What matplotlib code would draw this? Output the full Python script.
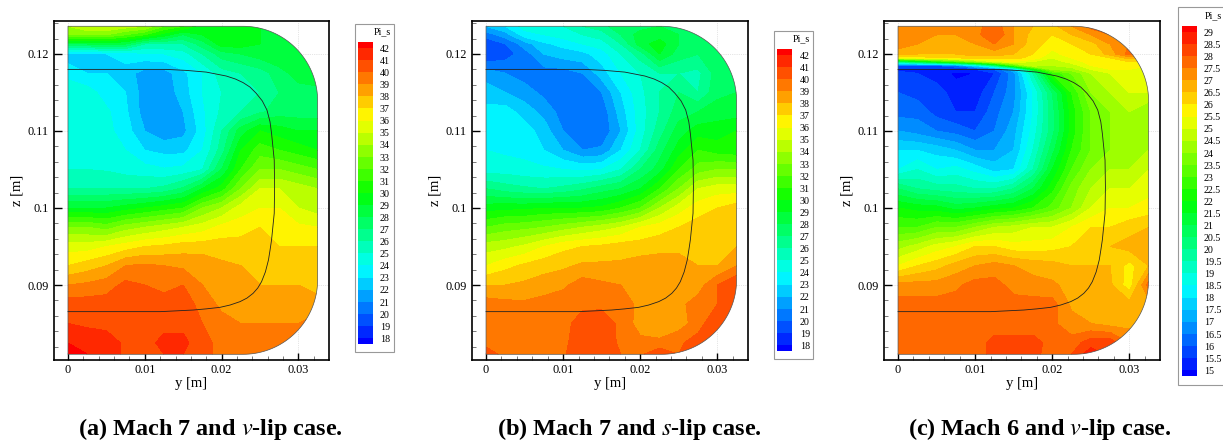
import numpy as np
import matplotlib
matplotlib.use("Agg")
import matplotlib.pyplot as plt
from matplotlib.colors import LinearSegmentedColormap, ListedColormap
from matplotlib.patches import Polygon, Rectangle
from matplotlib.ticker import MultipleLocator

plt.rcParams['font.family'] = ['Liberation Serif', 'DejaVu Serif']
plt.rcParams['mathtext.fontset'] = 'stix'

# y in m, rows from top to bottom
y_cols = np.array([0, 2.5, 5, 7.5, 10, 12.5, 15, 17.5, 20, 22.5, 25, 27.5, 30, 32.5]) / 1000
z_rows = [.1236, .1225, .1213, .12, .1175, .115, .1125, .11, .1075, .105, .1025, .1, .0975, .095, .0925, .09, .0875, .085, .0825, .081]
z_rows_c = [.1236, .1225, .1213, .12, .1195, .119, .1185, .118, .1175, .115, .1125, .11, .1075, .105, .1025, .1, .0975, .095, .0925, .09, .0875, .085, .0825, .081]

pi_a = [
    [34, 35, 35, 34.5, 34, 32, 31, 29.5, 29.5, 29.5, 29, 29, 29, 29],
    [33, 33, 33, 32, 31, 29.5, 28, 29, 30, 29.5, 29, 29, 29, 29],
    [28, 28, 28.5, 28, 26, 26, 26, 27.5, 29.5, 29.5, 29, 29, 29, 29],
    [22.5, 22.5, 23, 23.5, 23.8, 24, 24.5, 26, 27.5, 28, 28.5, 29, 29, 29],
    [23.5, 23, 23, 22.5, 21.5, 21.5, 22.7, 24, 25.5, 26, 26.5, 27.5, 28.5, 29],
    [25, 24.5, 23.5, 23, 21.5, 21.3, 22.5, 24, 25, 25.8, 26, 27, 27.5, 27.5],
    [25, 25, 24.2, 23.2, 21.5, 21.3, 22, 23.8, 25.2, 26, 26.8, 27.5, 27.5, 27.5],
    [25, 25, 24.3, 23.5, 22, 21.3, 21.7, 23.5, 26, 28.5, 30, 29.5, 29, 29],
    [24.8, 24.7, 24.5, 24, 23, 22.7, 22.7, 24, 26.5, 30, 31.5, 31, 30.5, 30],
    [25, 25, 24.9, 24.6, 24.4, 24.1, 24.3, 25, 28, 31, 33, 33, 32.5, 32],
    [26, 26, 26, 26, 26, 26.3, 27.2, 29, 30.5, 33, 35, 35, 34.5, 34],
    [29, 29, 29, 29.5, 30, 30.5, 31, 33, 34, 35.5, 36, 36, 35, 34.5],
    [33, 33, 32.5, 33.5, 34, 34.5, 35, 35.5, 36.3, 36.5, 37, 36.7, 36.2, 36],
    [35.5, 35.5, 36, 36.5, 37, 37.2, 37.5, 37.5, 37.5, 37.5, 37.2, 37, 37, 37],
    [37, 37.5, 38, 39, 39.2, 39, 38.8, 38.7, 38.2, 38, 38, 37.5, 37.3, 37.2],
    [39, 39.2, 39.5, 40.3, 40, 39.5, 40, 39, 38.7, 38.5, 38, 38, 38, 37.5],
    [40.5, 40.5, 40.5, 40.7, 40.8, 40.7, 40.7, 39.5, 38.8, 38.7, 38.5, 38.5, 38.5, 38.5],
    [41, 40.8, 40.7, 40.7, 40.7, 40.7, 40.7, 40, 39.3, 39, 39, 39, 39, 39.5],
    [42, 41.7, 41.5, 40.8, 40.6, 41.3, 41.3, 40.3, 39.7, 39.5, 39.5, 39.8, 40, 40],
    [42.3, 42, 41.5, 40.8, 40.5, 41, 41, 40.3, 39.7, 39.5, 39.5, 39.8, 40, 40],
]
pi_b = [
    [22, 23, 24.5, 25, 25, 26, 26.5, 28, 27.5, 28, 28, 28, 28, 28],
    [20.5, 21.5, 23.5, 24, 24.5, 25, 25.5, 27, 28.5, 28.5, 28, 28, 28, 28],
    [19, 20, 21.5, 22.8, 23.3, 24, 24.5, 26, 28.5, 29.5, 28, 27.5, 28, 28],
    [19, 19.5, 20.5, 22, 22.5, 22.7, 23.5, 25, 26.5, 29, 27.5, 27, 27.8, 28],
    [21.5, 21, 20.5, 20.5, 20.5, 21, 22.5, 24, 25, 26, 26, 25.7, 27.5, 28],
    [22.5, 22, 21.5, 20.7, 20.3, 20.3, 21, 23, 24.7, 26, 27, 26, 27.7, 28],
    [23.3, 23.5, 22.5, 21.7, 20.5, 20, 20.3, 22.5, 24.5, 26, 27.5, 28, 28.5, 28.5],
    [24, 24, 23.5, 22.5, 21, 20, 20.2, 22, 24.5, 26.5, 28.5, 29.5, 29.5, 30],
    [24, 23.8, 23.7, 23, 22, 21, 21.2, 23, 25, 27.5, 29.5, 31, 30.5, 30.3],
    [24.5, 24.5, 24.3, 24.2, 24, 23.8, 24, 25, 27, 28.5, 31, 32.5, 33, 33],
    [27, 26.5, 26.2, 26, 26.3, 26.8, 27.5, 28, 29, 31, 33, 35, 35.5, 35.5],
    [29.5, 29.7, 29.7, 30, 30, 30, 30.2, 31, 32, 34, 35.5, 36.5, 37, 37.5],
    [32, 32.5, 32.7, 33, 33.5, 34, 34.5, 35, 36, 36.5, 37, 37.5, 37.7, 37.7],
    [34.5, 34.7, 35.2, 36, 36.7, 37, 37.2, 37.5, 37.5, 37.7, 37.7, 37.8, 37.9, 38],
    [36, 36.7, 37.2, 37.6, 37.8, 38.2, 38.2, 38.2, 38.5, 38.5, 38.5, 38, 38, 39],
    [38, 38, 38.2, 38.5, 38.8, 39.5, 39.2, 39, 38.7, 38.5, 38.5, 38.5, 40, 41],
    [39.5, 39.3, 39.2, 39.4, 39.6, 39.8, 39.8, 39.6, 38.7, 38.3, 38.7, 39.5, 40, 41],
    [39.7, 39.7, 39.7, 39.7, 39.7, 40.4, 40.5, 39.8, 38.5, 38, 38.5, 39.5, 41, 41],
    [39.7, 39.7, 39.7, 39.7, 39.8, 40.5, 40.6, 39.8, 39.3, 39.3, 39.8, 40.5, 41, 41],
    [40.5, 39.7, 39.7, 39.7, 39.9, 40.5, 40.6, 40, 39.8, 40.8, 40, 40.5, 41, 41],
]
pi_c = [
    [27.3, 27.2, 27.2, 27.3, 27.3, 27.8, 27, 26.5, 26.3, 27, 27.7, 27.7, 27.5, 27],
    [27.5, 27.2, 27, 27, 27.3, 28, 27, 26.3, 26, 26.5, 27, 27.5, 27.3, 27],
    [27.2, 27, 26.7, 26.7, 27, 27.5, 27, 26.2, 25.8, 26, 26.3, 27, 27.5, 27],
    [26.8, 26.5, 26.5, 26.5, 26.7, 26.7, 26.5, 26, 25.3, 25.8, 26, 26.7, 27.7, 27],
    [25.5, 25.7, 26, 26, 26.3, 26.3, 26.2, 25.8, 25, 25.5, 26, 26, 26.7, 26.5],
    [20, 21, 22, 23, 24, 25, 25.5, 25, 24.7, 25.2, 25.7, 26, 26, 26],
    [16, 16, 16, 16.5, 18, 20, 23, 25, 24.5, 24.7, 25.5, 25.7, 25.7, 25.5],
    [15.3, 15.3, 15.3, 15.3, 15.5, 16, 17.5, 21.5, 24, 24.3, 25, 25.5, 25.5, 25.5],
    [15.7, 15.5, 15.2, 14.9, 15, 15.5, 16.8, 19.5, 22.5, 23.5, 24.5, 25, 25.5, 25.3],
    [16, 15.8, 15.8, 15.2, 15.2, 16, 16.8, 18.5, 20.5, 22.5, 24, 24.5, 25, 25],
    [16.3, 16.3, 15.8, 15.5, 15.5, 16.3, 17, 18.5, 20.3, 22.2, 23.5, 24, 24.5, 24],
    [17, 16.8, 16.5, 16.3, 16, 16.5, 17.3, 18.7, 20.3, 22.2, 23.5, 24, 24.3, 24],
    [18, 18, 17.8, 17.5, 17, 17, 17.5, 19, 20.8, 22.5, 23.5, 24, 24.3, 24.5],
    [18.5, 19, 18.5, 18.7, 18.3, 17.8, 18, 19.5, 21.5, 23, 24, 24.5, 24.5, 25],
    [20.5, 20, 19.8, 19.7, 19.5, 19.5, 20, 21, 22.3, 23.7, 24.5, 25, 25, 25.3],
    [22, 21.8, 21.7, 21.3, 21.5, 21.8, 22, 22.5, 23.2, 24, 25, 25.5, 25.5, 25.7],
    [23, 23, 23.5, 23.5, 24, 24.5, 24.7, 25, 25, 25.5, 26, 26, 26.3, 26.5],
    [24.3, 24.7, 25.2, 25.5, 26, 26, 25.7, 25.7, 25.8, 26, 26.3, 26.5, 26.7, 27],
    [25.5, 26, 26.3, 26.7, 27, 27.2, 27, 26.8, 26.7, 26.5, 26.5, 26.5, 25.8, 26.5],
    [27.2, 27.2, 27.2, 27.4, 27.7, 27.7, 27.3, 27.2, 27.1, 26.8, 26.6, 26.6, 25.7, 27.7],
    [27.7, 27.7, 27.7, 27.7, 27.7, 27.7, 27.7, 27.7, 27.7, 26.9, 26.8, 26.8, 26.7, 26.7],
    [27.7, 27.7, 27.7, 27.7, 27.7, 27.7, 27.7, 27.7, 27.6, 27.2, 27, 26.8, 26.8, 26.8],
    [27.7, 27.7, 27.8, 27.8, 27.7, 28.2, 28.2, 28.2, 27.8, 27.7, 28.3, 28.3, 27.5, 27.5],
    [27.7, 27.7, 27.8, 27.8, 27.7, 28.2, 28.2, 28.2, 27.7, 28, 28.8, 28.3, 27.5, 27.5],
]

# lip line
lip_y = np.array([0, 12.8, 15.4, 18.0, 20.6, 21.8, 22.8, 23.7, 24.5, 25.3, 25.9, 26.3, 26.5, 26.85, 26.9, 26.85, 26.5, 26.3, 26.1, 25.7, 25.2, 24.7, 24.1, 23.3, 22.4, 21.1, 19.8, 18, 16.3, 12, 0]) / 1000
lip_z = [.118, .118, .11787, .11765, .11714, .11675, .11628, .1157, .1149, .1139, .11273, .1112, .1097, .10623, .10277, .09931, .09584, .0945, .09325, .0917, .09043, .0896, .08892, .0883, .08784, .0874, .0871, .0869, .08675, .08654, .08654]

levels_ab = np.arange(18, 43, 1.0)
levels_c = np.arange(15, 29.5, 0.5)
labels_ab = [str(v) for v in range(18, 43)]
labels_c = ["%g" % v for v in levels_c]
captions = ["(a) Mach 7 and $v$-lip case.", "(b) Mach 7 and $s$-lip case.", "(c) Mach 6 and $v$-lip case."]

W, H = 1223, 444
rainbow = LinearSegmentedColormap.from_list("tec", ["#0000ff", "#00ffff", "#00ff00", "#ffff00", "#ff0000"])


def px_axes(fig, x0, y0, x1, y1):
    # pixel box, y from the top
    return fig.add_axes([x0 / W, 1 - y1 / H, (x1 - x0) / W, (y1 - y0) / H])


def outline():
    # duct section with two rounded corners
    ym, zt, zb, r, rz = .0325, .1236, .081, .0097, .0097
    t = np.linspace(0, np.pi / 2, 40)
    top = np.c_[ym - r + r * np.sin(t), zt - rz + rz * np.cos(t)]
    bot = np.c_[ym - r + r * np.cos(t), zb + rz - rz * np.sin(t)]
    return np.vstack([[[0, zb], [0, zt]], top, bot])


fig = plt.figure(figsize=(W / 100, H / 100), dpi=100)


def panel(x0, x1, rows, vals, levels, labels, bar, caption, caption_x):
    ax = px_axes(fig, x0, 21.5, x1, 360)
    half = (levels[1] - levels[0]) / 2
    edges = np.r_[levels[0] - half, levels, levels[-1] + half]
    n = len(edges) - 1
    cols = [rainbow(i / (n - 1)) for i in range(n)]
    arr = np.clip(np.array(vals), edges[0], edges[-1])
    ax.grid(True, which="major", color="#cccccc", lw=0.5, ls=":")
    ax.set_axisbelow(True)
    cs = ax.contourf(y_cols, rows, arr, levels=edges, colors=cols)
    dom = Polygon(outline(), closed=True, fc="none", ec="#555555", lw=0.5, zorder=3)
    ax.add_patch(dom)
    cs.set_clip_path(dom)
    ax.plot(lip_y, lip_z, color="#222222", lw=0.6, zorder=4)
    ax.set_xlim(-0.00182, 0.03398)
    ax.set_ylim(0.08026, 0.12422)
    ax.xaxis.set_major_locator(MultipleLocator(0.01))
    ax.xaxis.set_minor_locator(MultipleLocator(0.002))
    ax.yaxis.set_major_locator(MultipleLocator(0.01))
    ax.yaxis.set_minor_locator(MultipleLocator(0.002))
    ax.xaxis.set_major_formatter(lambda v, p: "%g" % round(v, 3))
    ax.yaxis.set_major_formatter(lambda v, p: "%g" % round(v, 3))
    ax.tick_params(which="major", direction="in", length=7.5 * 0.72, width=1.0, labelsize=8.8)
    ax.tick_params(axis="x", which="major", pad=3)
    ax.tick_params(axis="y", which="major", pad=3.6)
    ax.tick_params(which="minor", direction="in", length=4 * 0.72, width=0.5, color="#444444")
    for s in ax.spines.values():
        s.set_linewidth(1.2)
    ax.set_xlabel("y [m]", fontsize=10.5, va="center")
    ax.set_ylabel("z [m]", fontsize=10.5, va="center")
    ax.xaxis.set_label_coords(0.5, -0.068)
    ax.yaxis.set_label_coords(-0.133, 0.5)
    fig.text(caption_x / W, 1 - 429 / H, caption, fontsize=17.5, fontweight="bold", ha="center", va="center")

    # legend box
    bx0, by0, bx1, by1, cx0, cy0, cx1, cy1, title_x, lab_x = bar
    fig.add_artist(Rectangle((bx0 / W, 1 - by1 / H), (bx1 - bx0) / W, (by1 - by0) / H, transform=fig.transFigure,
                             fc="white", ec="#999999", lw=0.8, clip_on=False, zorder=-1))
    cax = px_axes(fig, cx0, cy0, cx1, cy1)
    cax.pcolormesh([0, 1], edges, np.arange(n).reshape(-1, 1), cmap=ListedColormap(cols), vmin=-0.5, vmax=n - 0.5)
    cax.axis("off")
    step = (cy1 - cy0) / (edges[-1] - edges[0])
    for v, lab in zip(levels, labels):
        py = cy0 + (edges[-1] - v) * step + 1.3
        fig.text(lab_x / W, 1 - py / H, lab, fontsize=7.2, ha="left", va="center")
    fig.text(title_x / W, 1 - (by0 + 8) / H, "Pi_s", fontsize=7.2, ha="center", va="center")


panel(54, 329, z_rows, pi_a, levels_ab, labels_ab, (354.5, 24, 393.5, 352, 358, 42, 373, 344, 382, 380), captions[0], 210)
panel(472, 748, z_rows, pi_b, levels_ab, labels_ab, (773.5, 31, 813, 359, 777, 49, 792, 351, 801, 800), captions[1], 629)
panel(884, 1160, z_rows_c, pi_c, levels_c, labels_c, (1177.5, 7.5, 1226, 385, 1182, 26, 1197, 376, 1213, 1204), captions[2], 1039.5)

fig.savefig("out.png", dpi=100)
